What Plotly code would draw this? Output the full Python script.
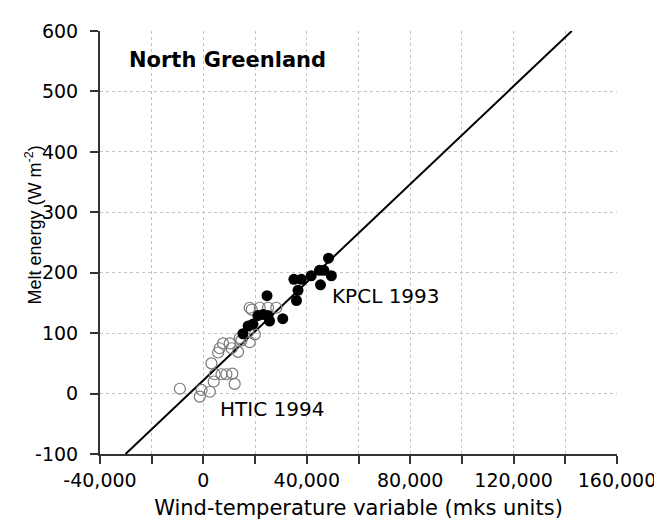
import plotly.graph_objects as go

# HTIC 1994 (open circles)
htic_x = [-9100, -1400, -700, 2500, 4000, 4400, 7000, 8900, 11200, 12100,
          3100, 5700, 6300, 7600, 10200, 10900, 13400, 14100, 17900, 19900,
          17300, 17900, 18700, 21800, 25000, 28200, 14700]
htic_y = [8, -5, 6, 3, 20, 32, 32, 32, 33, 16,
          50, 68, 75, 83, 83, 75, 69, 92, 85, 98,
          102, 142, 139, 142, 142, 142, 88]

# KPCL 1993 (filled circles)
kpcl_x = [48400, 44900, 46600, 41700, 49500, 35000, 37900, 45300, 36600, 36000,
          24600, 21100, 23100, 25000, 25600, 30700, 19200, 17300, 15300]
kpcl_y = [224, 204, 204, 195, 195, 189, 189, 180, 171, 154,
          162, 129, 131, 129, 120, 124, 115, 112, 99]

# regression line end points
fit_x = [-30100, 142500]
fit_y = [-100, 600]

x_ticks = list(range(-40000, 160001, 40000))
x_labels = [f"{v:,}" for v in x_ticks]
x_minor = list(range(-20000, 160000, 40000))
y_ticks = list(range(-100, 601, 100))
y_labels = [str(v) for v in y_ticks]

FONT = "DejaVu Sans, sans-serif"
FONT2 = "Liberation Sans, Arial, sans-serif"
GRID = "#c4c4c4"
AXC = "#333333"

fig = go.Figure()
fig.add_trace(go.Scatter(x=fit_x, y=fit_y, mode="lines",
                         line=dict(color="black", width=2), hoverinfo="skip"))
fig.add_trace(go.Scatter(x=htic_x, y=htic_y, mode="markers", name="HTIC 1994",
                         marker=dict(symbol="circle-open", size=11,
                                     color="#7a7a7a", line=dict(width=1.2))))
fig.add_trace(go.Scatter(x=kpcl_x, y=kpcl_y, mode="markers", name="KPCL 1993",
                         marker=dict(symbol="circle", size=11, color="black")))

fig.add_annotation(x=-29400, y=552, text="<b>North Greenland</b>", showarrow=False,
                   xanchor="left", yanchor="middle", font=dict(size=21, color="black", family=FONT))
fig.add_annotation(x=49000, y=162, text="KPCL 1993", showarrow=False,
                   xanchor="left", yanchor="middle", font=dict(size=20, color="black", family=FONT))
fig.add_annotation(x=5800, y=-26, text="HTIC 1994", showarrow=False,
                   xanchor="left", yanchor="middle", font=dict(size=20, color="black", family=FONT))
# y-axis title
fig.add_annotation(xref="paper", yref="paper", x=-0.128, y=0.542,
                   text="Melt energy (W m<sup>-2</sup>)", textangle=-90, showarrow=False,
                   xanchor="center", yanchor="middle",
                   font=dict(size=18, color="black", family=FONT2))

axis_common = dict(showgrid=True, gridcolor=GRID, griddash="dot", gridwidth=1,
                   zeroline=False, showline=True, linecolor=AXC, linewidth=2,
                   ticks="outside", ticklen=8, tickwidth=2, tickcolor=AXC,
                   tickfont=dict(size=19, color="black", family=FONT))

fig.update_xaxes(range=[-40000, 160000], tickvals=x_ticks, ticktext=x_labels,
                 ticklabelstandoff=0,
                 minor=dict(tickvals=x_minor, ticks="outside", ticklen=8, tickwidth=2,
                            tickcolor=AXC, showgrid=True, gridcolor=GRID,
                            griddash="dot", gridwidth=1),
                 title=dict(text="Wind-temperature variable (mks units)",
                            font=dict(size=21, color="black", family=FONT), standoff=11),
                 **axis_common)
fig.update_yaxes(range=[-100, 600], tickvals=y_ticks, ticktext=y_labels,
                 ticklabelstandoff=8, **axis_common)

fig.update_layout(width=662, height=523, showlegend=False,
                  paper_bgcolor="white", plot_bgcolor="white",
                  margin=dict(l=92, r=53, t=14, b=77))

fig.write_html("out.html")
